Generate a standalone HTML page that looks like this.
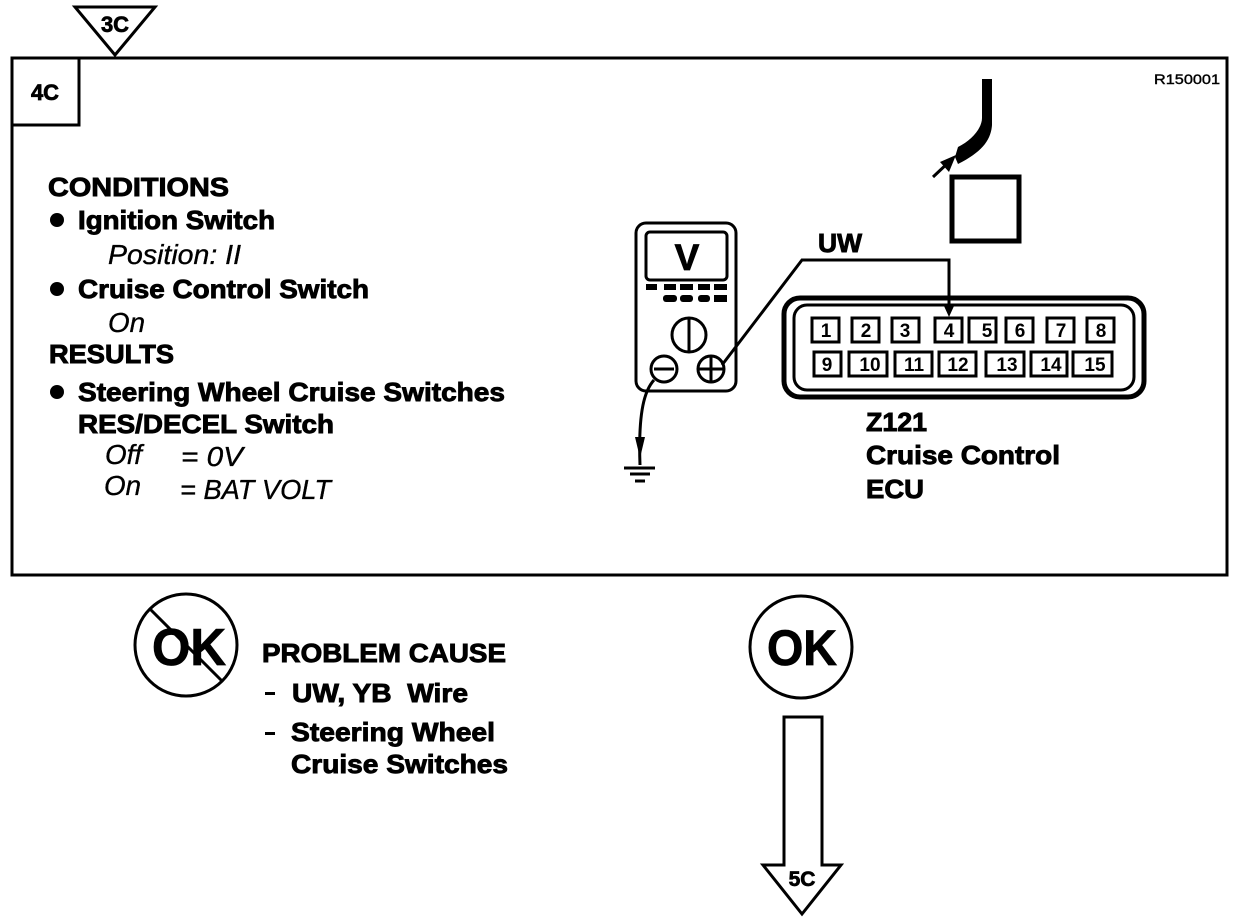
<!DOCTYPE html>
<html><head><meta charset="utf-8">
<style>
html,body{margin:0;padding:0;background:#fff;width:1248px;height:922px;overflow:hidden}
svg{display:block}
text{font-family:"Liberation Sans",sans-serif;fill:#000}
.b{font-weight:bold;font-size:26px;stroke:#000;stroke-width:.9}
.i{font-style:italic;font-size:28px;stroke:#000;stroke-width:.35}
.p{font-weight:bold;font-size:19px;text-anchor:middle}
.pin{fill:#fff;stroke:#000;stroke-width:3}
.l{fill:none;stroke:#000}
</style></head><body>
<svg width="1248" height="922" viewBox="0 0 1248 922" xmlns="http://www.w3.org/2000/svg">
<rect class="l" x="12" y="58" width="1215" height="517" stroke-width="3"/>
<rect class="l" x="12" y="58" width="67" height="67" stroke-width="3"/>
<polygon points="75,7 155,7 115,55" fill="#fff" stroke="#000" stroke-width="3"/>
<text x="115" y="32" font-size="22" font-weight="bold" stroke="#000" stroke-width=".7" text-anchor="middle">3C</text>
<text x="45" y="100" font-size="22" font-weight="bold" stroke="#000" stroke-width=".7" text-anchor="middle">4C</text>
<text x="1154" y="84" font-size="14" stroke="#000" stroke-width=".4" textLength="66" lengthAdjust="spacingAndGlyphs">R150001</text>

<text class="b" x="48" y="196" textLength="181" lengthAdjust="spacingAndGlyphs">CONDITIONS</text>
<circle cx="57" cy="220" r="7"/>
<text class="b" x="78" y="229" textLength="197" lengthAdjust="spacingAndGlyphs">Ignition Switch</text>
<text class="i" x="108" y="264" textLength="133" lengthAdjust="spacingAndGlyphs">Position: II</text>
<circle cx="57" cy="289" r="7"/>
<text class="b" x="78" y="298" textLength="291" lengthAdjust="spacingAndGlyphs">Cruise Control Switch</text>
<text class="i" x="108" y="332" textLength="37" lengthAdjust="spacingAndGlyphs">On</text>
<text class="b" x="49" y="363" textLength="125" lengthAdjust="spacingAndGlyphs">RESULTS</text>
<circle cx="57" cy="392" r="7"/>
<text class="b" x="78" y="401" textLength="427" lengthAdjust="spacingAndGlyphs">Steering Wheel Cruise Switches</text>
<text class="b" x="78" y="433" textLength="256" lengthAdjust="spacingAndGlyphs">RES/DECEL Switch</text>
<text class="i" x="105" y="464" textLength="37" lengthAdjust="spacingAndGlyphs">Off</text>
<text class="i" x="181" y="466" textLength="62" lengthAdjust="spacingAndGlyphs">= 0V</text>
<text class="i" x="104" y="495" textLength="37" lengthAdjust="spacingAndGlyphs">On</text>
<text class="i" x="180" y="499" textLength="151" lengthAdjust="spacingAndGlyphs">= BAT VOLT</text>

<!-- harness -->
<path d="M982,79 H992 V125 C991,140 982,152 958,164 L955,157 L958,147 C972,140 982,128 982,118 Z"/>
<path class="l" d="M933,177 L950,161" stroke-width="3"/>
<polygon points="956,155 940,162 949,172"/>
<rect class="l" x="952" y="177" width="67" height="64" stroke-width="5"/>

<!-- meter -->
<rect class="l" x="636" y="223" width="100" height="168" rx="10" stroke-width="3"/>
<rect class="l" x="646" y="232" width="81" height="48" rx="4" stroke-width="3"/>
<text x="687" y="270" font-size="37" font-weight="bold" text-anchor="middle" stroke="#000" stroke-width=".8">V</text>
<g>
<rect x="646" y="284" width="11" height="6"/><rect x="664" y="284" width="12" height="6"/><rect x="680" y="284" width="13" height="6"/><rect x="698" y="284" width="12" height="6"/><rect x="714" y="284" width="13" height="6"/>
<rect x="663" y="295" width="14" height="7" rx="3"/><rect x="680" y="295" width="13" height="7" rx="3"/><rect x="698" y="295" width="12" height="7" rx="3"/><rect x="714" y="295" width="13" height="7"/>
</g>
<circle class="l" cx="689" cy="335" r="17" stroke-width="3"/>
<path class="l" d="M689,318 V352" stroke-width="3"/>
<circle cx="664" cy="369" r="13" fill="#fff" stroke="#000" stroke-width="3"/>
<path class="l" d="M654,369 H674" stroke-width="3"/>
<circle cx="711" cy="369" r="13" fill="#fff" stroke="#000" stroke-width="3"/>
<path class="l" d="M698,369 H724 M711,356 V382" stroke-width="3"/>
<path class="l" d="M654,380 C645,390 638,410 640,465" stroke-width="3"/>
<polygon points="635,437 645,437 640,458"/>
<path class="l" d="M624,468 H655" stroke-width="3"/>
<path class="l" d="M630,474 H650" stroke-width="3"/>
<path class="l" d="M635,481 H645" stroke-width="3"/>

<!-- wire -->
<path class="l" d="M722,365 L802,260 H949 V312" stroke-width="3"/>
<polygon points="944,306 954,306 949,317"/>
<text class="b" x="818" y="252" textLength="44" lengthAdjust="spacingAndGlyphs">UW</text>

<!-- connector -->
<rect class="l" x="784" y="298" width="360" height="99" rx="16" stroke-width="5"/>
<rect class="l" x="794" y="305" width="340" height="85" rx="13" stroke-width="3"/>
<rect class="pin" x="812" y="318" width="27" height="24"/><text class="p" x="826" y="337">1</text>
<rect class="pin" x="852" y="318" width="27" height="24"/><text class="p" x="866" y="337">2</text>
<rect class="pin" x="892" y="318" width="27" height="24"/><text class="p" x="905" y="337">3</text>
<rect class="pin" x="935" y="318" width="27" height="24"/><text class="p" x="949" y="337">4</text>
<rect class="pin" x="969" y="318" width="27" height="24"/><text class="p" x="987" y="337">5</text>
<rect class="pin" x="1006" y="318" width="27" height="24"/><text class="p" x="1020" y="337">6</text>
<rect class="pin" x="1047" y="318" width="27" height="24"/><text class="p" x="1061" y="337">7</text>
<rect class="pin" x="1087" y="318" width="27" height="24"/><text class="p" x="1101" y="337">8</text>
<rect class="pin" x="814" y="352" width="27" height="24"/><text class="p" x="827" y="371">9</text>
<rect class="pin" x="849" y="352" width="38" height="24"/><text class="p" x="870" y="371">10</text>
<rect class="pin" x="895" y="352" width="37" height="24"/><text class="p" x="914" y="371">11</text>
<rect class="pin" x="939" y="352" width="37" height="24"/><text class="p" x="958" y="371">12</text>
<rect class="pin" x="986" y="352" width="38" height="24"/><text class="p" x="1007" y="371">13</text>
<rect class="pin" x="1031" y="352" width="36" height="24"/><text class="p" x="1051" y="371">14</text>
<rect class="pin" x="1073" y="352" width="39" height="24"/><text class="p" x="1095" y="371">15</text>
<text class="b" x="866" y="431" textLength="61" lengthAdjust="spacingAndGlyphs">Z121</text>
<text class="b" x="866" y="464" textLength="194" lengthAdjust="spacingAndGlyphs">Cruise Control</text>
<text class="b" x="866" y="498" textLength="58" lengthAdjust="spacingAndGlyphs">ECU</text>

<!-- no OK -->
<circle class="l" cx="186" cy="645" r="51" stroke-width="3"/>
<text x="152" y="665" font-size="52" font-weight="bold" stroke="#000" stroke-width=".8" textLength="74" lengthAdjust="spacingAndGlyphs">OK</text>
<path class="l" d="M150,609 L222,681" stroke-width="3"/>
<text class="b" x="262" y="662" textLength="244" lengthAdjust="spacingAndGlyphs">PROBLEM CAUSE</text>
<rect x="265" y="692" width="10" height="3"/>
<text class="b" x="292" y="702" textLength="176" lengthAdjust="spacingAndGlyphs" xml:space="preserve">UW, YB  Wire</text>
<rect x="265" y="732" width="10" height="3"/>
<text class="b" x="291" y="741" textLength="204" lengthAdjust="spacingAndGlyphs">Steering Wheel</text>
<text class="b" x="291" y="773" textLength="217" lengthAdjust="spacingAndGlyphs">Cruise Switches</text>

<!-- OK -->
<circle class="l" cx="801" cy="647" r="51" stroke-width="3"/>
<text x="767" y="665" font-size="50" font-weight="bold" stroke="#000" stroke-width=".8" textLength="70" lengthAdjust="spacingAndGlyphs">OK</text>

<!-- down arrow -->
<path d="M784,717 H822 V865 H841 L802,914 L763,865 H784 Z" fill="#fff" stroke="#000" stroke-width="3"/>
<text x="802" y="886" font-size="21" font-weight="bold" stroke="#000" stroke-width=".7" text-anchor="middle">5C</text>
</svg>
</body></html>
